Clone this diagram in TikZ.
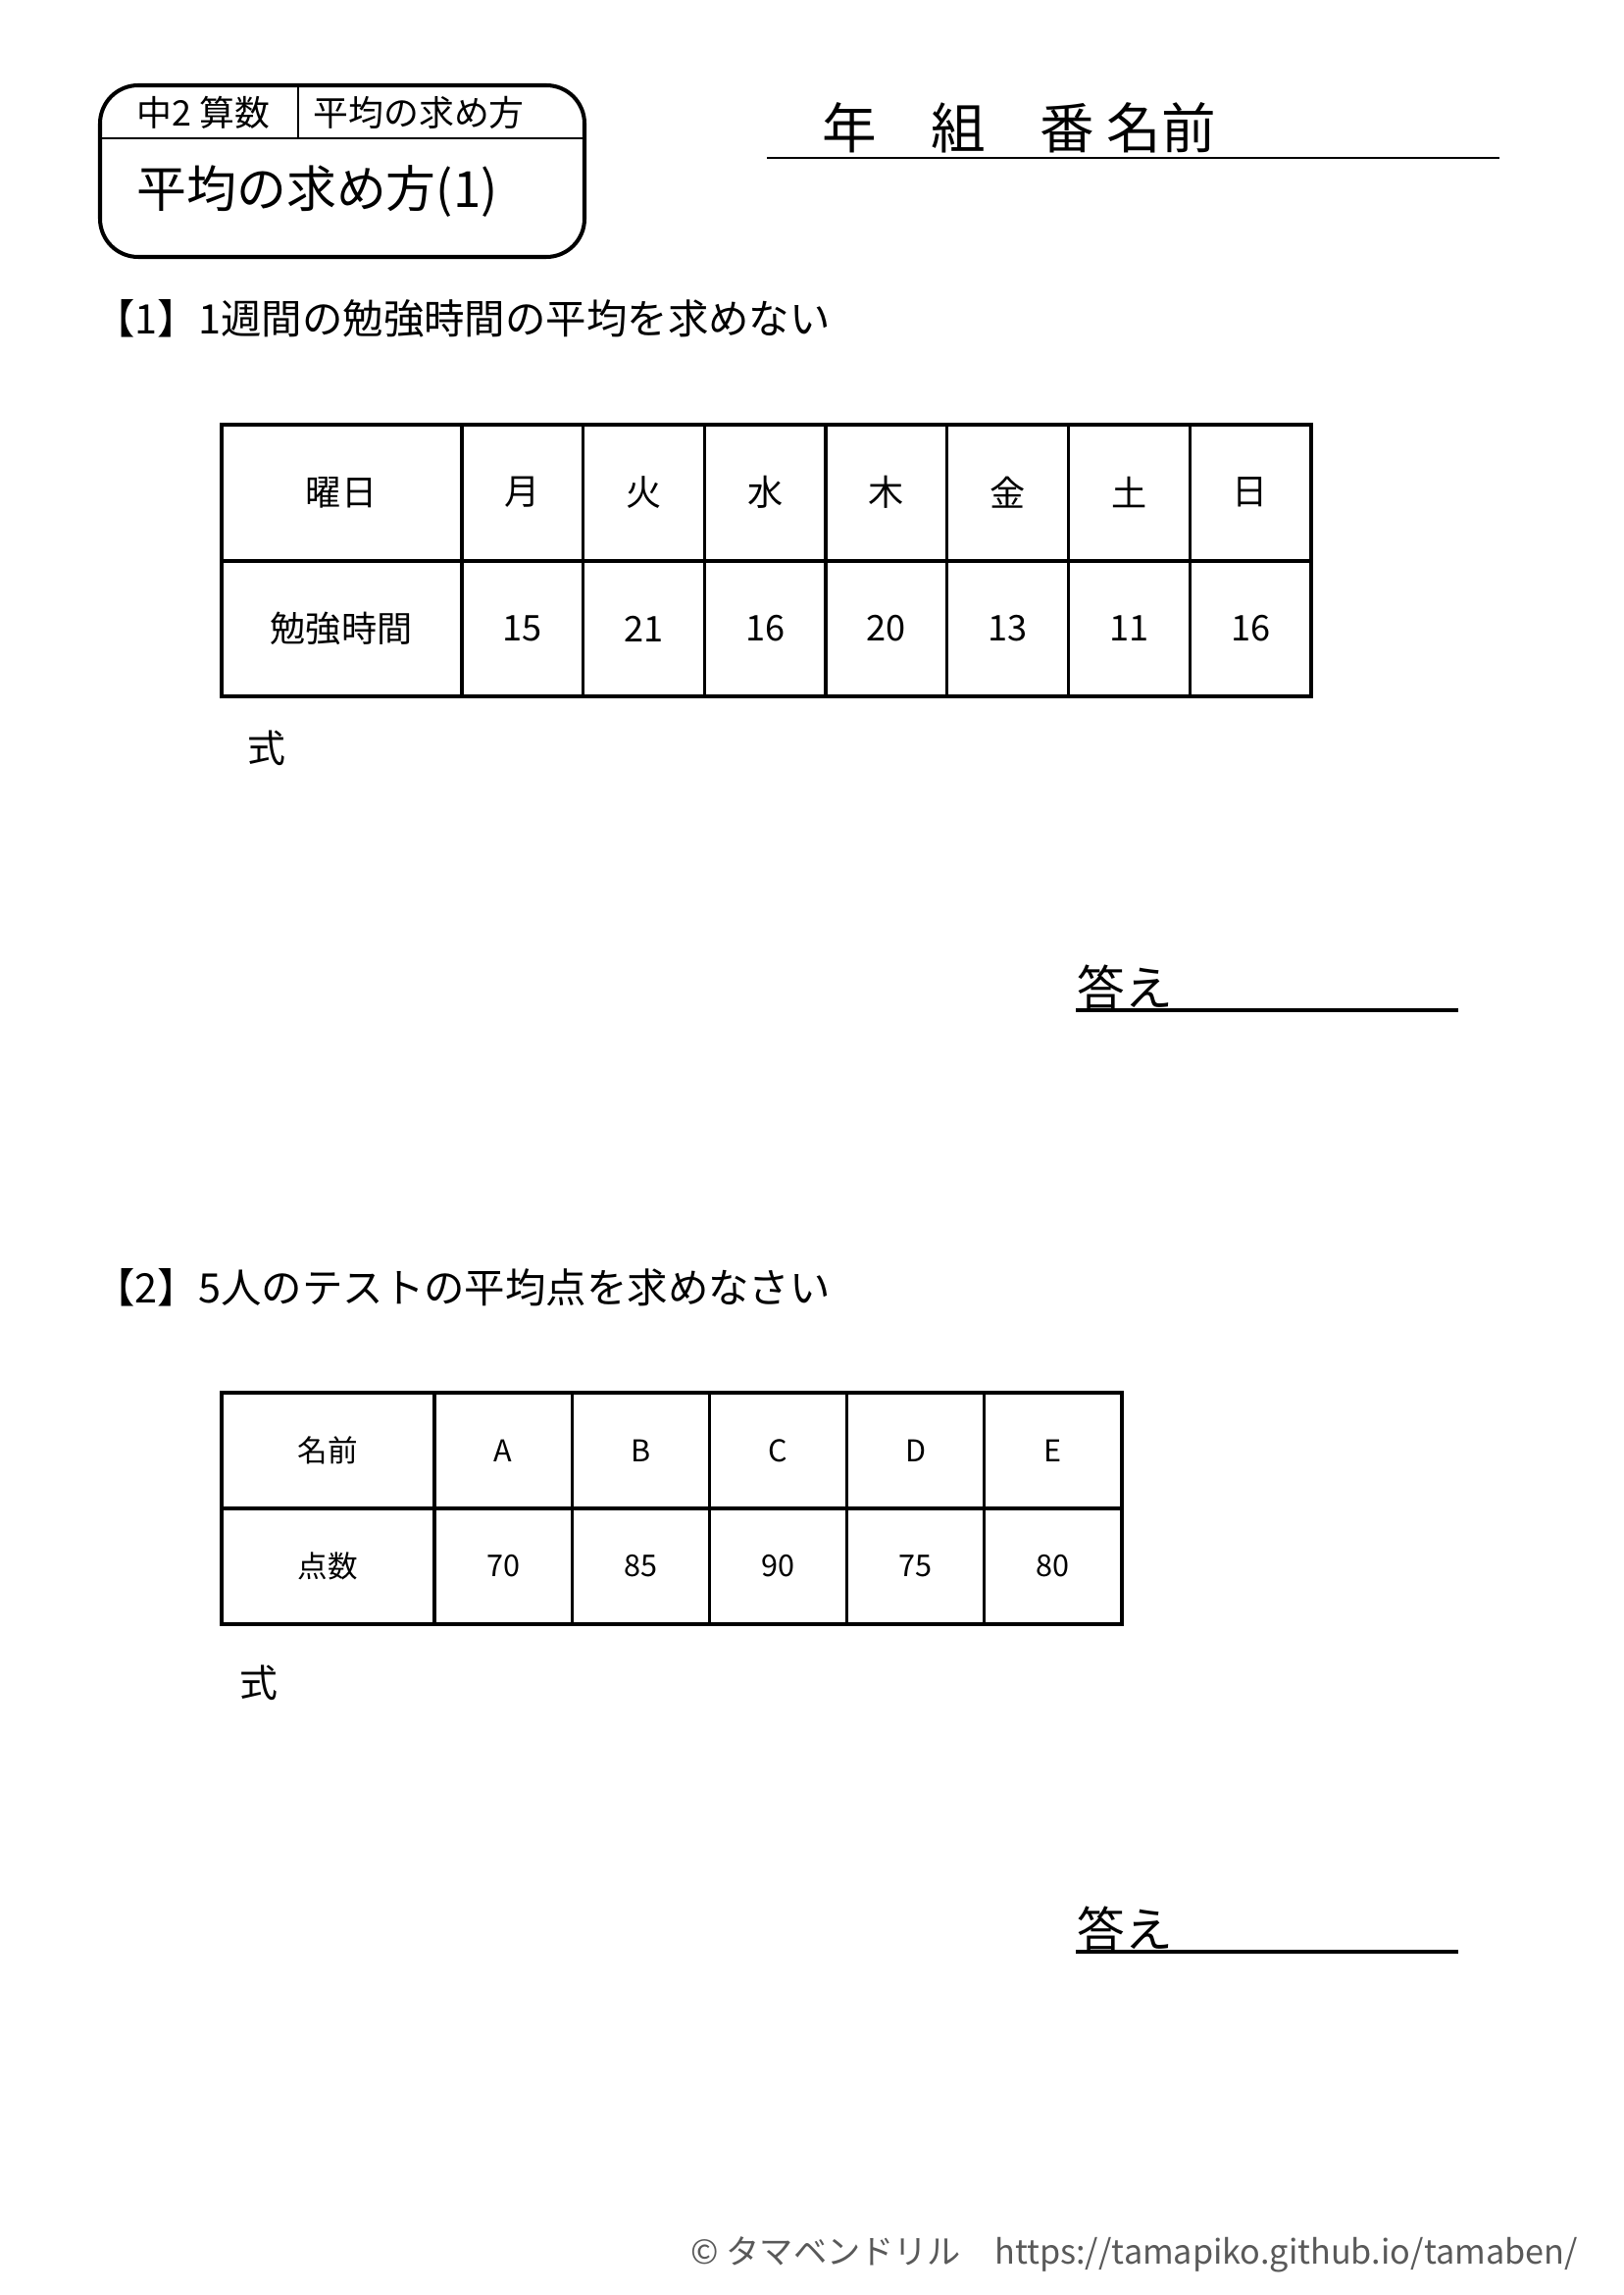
\documentclass[tikz,border=0pt]{standalone}
\usepackage{fontspec}
\setmainfont{Noto Sans CJK JP}
\definecolor{footgray}{gray}{0.35}

\begin{document}
\begin{tikzpicture}[x=0.3597pt, y=-0.3597pt,
  txt/.style={inner sep=0pt, anchor=west},
  cell/.style={inner sep=0pt, font=\fontsize{13}{15}\selectfont},
  smallcell/.style={inner sep=0pt, font=\fontsize{11}{13}\selectfont},
  rule/.style={line width=1.2pt}]
\useasboundingbox (0, 0) rectangle (1655, 2340);
% 見出し枠
\draw [line width=1.45pt, rounded corners=14] (102, 87) rectangle (596, 262);
\draw [line width=0.8pt] (102, 141) -- (596, 141);
\draw [line width=0.8pt] (304, 87) -- (304, 141);
\node [txt, font=\fontsize{12.9}{15}\selectfont] (grade) at (139, 115) {中2 算数};
\node [txt, font=\fontsize{12.9}{15}\selectfont] (unit) at (319, 115) {平均の求め方};
\node [txt, font=\fontsize{18.3}{22}\selectfont] (title) at (139, 195) {平均の求め方(1)};
% 名前欄
\node [txt, font=\fontsize{20}{24}\selectfont] (name) at (838, 130) {年　組　番 名前};
\draw [line width=0.8pt] (782, 161) -- (1529, 161);
%【1】
\node [txt, font=\fontsize{14.9}{18}\selectfont] (q1) at (96, 325) {【1】1週間の勉強時間の平均を求めない};
\draw [rule] (226, 433) rectangle (1337, 710);
\draw [rule] (226, 572) -- (1337, 572);
\foreach \k in {0,...,6}
  \draw [rule] ({471+123.7*\k}, 433) -- ({471+123.7*\k}, 710);
\node [cell] (yobi) at (348, 502) {曜日};
\node [cell] (jikan) at (348, 641) {勉強時間};
\foreach \d/\h [count=\i] in {月/15, 火/21, 水/16, 木/20, 金/13, 土/11, 日/16}{
  \node [cell] (yobi-\i) at ({471+123.7*(\i-0.5)}, 502) {\d};
  \node [cell] (jikan-\i) at ({471+123.7*(\i-0.5)}, 641) {\h};
}
\node [font=\fontsize{14}{17}\selectfont, inner sep=0pt] (shiki1) at (272, 763) {式};
\node [txt, anchor=base west, font=\fontsize{17.5}{20}\selectfont] (kotae1) at (1098, 1025) {答え};
\draw [line width=1.4pt] (1097, 1030) -- (1487, 1030);
%【2】
\node [txt, font=\fontsize{14.9}{18}\selectfont] (q2) at (96, 1313) {【2】5人のテストの平均点を求めなさい};
\draw [rule] (226, 1420) rectangle (1144, 1656);
\draw [rule] (226, 1538) -- (1144, 1538);
\foreach \k in {0,...,4}
  \draw [rule] ({443+140.2*\k}, 1420) -- ({443+140.2*\k}, 1656);
\node [smallcell] (namae) at (334, 1479) {名前};
\node [smallcell] (ten) at (334, 1597) {点数};
\foreach \n/\p [count=\i] in {A/70, B/85, C/90, D/75, E/80}{
  \node [smallcell] (namae-\i) at ({443+140.2*(\i-0.5)}, 1479) {\n};
  \node [smallcell] (ten-\i) at ({443+140.2*(\i-0.5)}, 1597) {\p};
}
\node [font=\fontsize{14}{17}\selectfont, inner sep=0pt] (shiki2) at (264, 1716) {式};
\node [txt, anchor=base west, font=\fontsize{17.5}{20}\selectfont] (kotae2) at (1098, 1985) {答え};
\draw [line width=1.4pt] (1097, 1990) -- (1487, 1990);
% フッター
\node [txt, text=footgray, font=\fontsize{12.3}{14}\selectfont] (foot) at (704, 2299) {© タマベンドリル　https://tamapiko.github.io/tamaben/};
\end{tikzpicture}
\end{document}
